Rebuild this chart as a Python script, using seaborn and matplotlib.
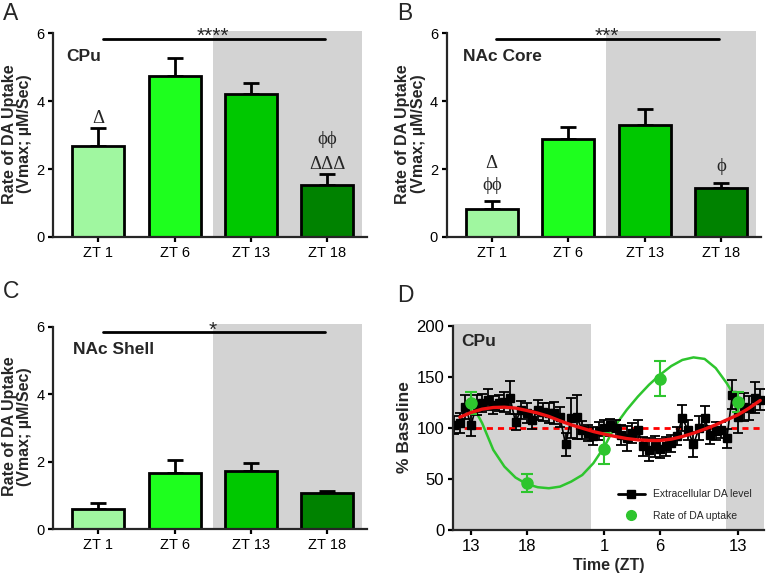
import matplotlib
matplotlib.use("Agg")
import matplotlib.pyplot as plt
import seaborn as sns
import pandas as pd
import numpy as np
from matplotlib.lines import Line2D

sns.set_style("ticks")
plt.rcParams['font.family'] = ['Liberation Sans', 'DejaVu Sans']

# ---------------- data ----------------
categories = ["ZT 1", "ZT 6", "ZT 13", "ZT 18"]
bar_colors = ["#a0f7a0", "#1eff1e", "#00c800", "#008200"]

cpu_vals = [2.69, 4.74, 4.20, 1.53]
cpu_errs = [0.51, 0.54, 0.34, 0.33]
core_vals = [0.82, 2.88, 3.30, 1.43]
core_errs = [0.24, 0.37, 0.46, 0.16]
shell_vals = [0.60, 1.68, 1.73, 1.07]
shell_errs = [0.17, 0.37, 0.24, 0.07]

# panel D (hours since ZT13)
d_tick_pos = [0, 5, 12, 17, 24]
d_tick_lab = ["13", "18", "1", "6", "13"]

da_hr = [-1.5, -1.0, -0.5, 0.0, 0.5, 1.0, 1.5, 2.0, 2.5, 3.0, 3.5, 4.0, 4.5, 5.0,
         5.5, 6.0, 6.5, 7.0, 7.5, 8.0, 8.5, 9.0, 9.5, 10.0, 10.5, 11.0, 11.5, 12.0,
         12.5, 13.0, 13.5, 14.0, 14.5, 15.0, 15.5, 16.0, 16.5, 17.0, 17.5, 18.0,
         18.5, 19.0, 19.5, 20.0, 20.5, 21.0, 21.5, 22.0, 22.5, 23.0, 23.5, 24.0,
         24.5, 25.0, 25.5, 26.0]
da_val = [103, 105, 121, 103, 123, 125, 128, 123, 125, 126, 130, 106, 118, 115,
          108, 118, 116, 115, 115, 111, 84, 110, 111, 98, 95, 92, 97, 100,
          103, 100, 93, 90, 95, 98, 82, 79, 82, 80, 82, 85,
          92, 110, 98, 84, 100, 110, 93, 97, 98, 90, 133, 111,
          121, 120, 130, 128]
da_err = [9, 10, 12, 11, 10, 9, 10, 9, 8, 10, 16, 8, 9, 10,
          9, 10, 9, 10, 11, 10, 11, 20, 22, 9, 8, 9, 9, 8,
          6, 8, 10, 12, 10, 10, 9, 11, 10, 9, 9, 8,
          9, 13, 10, 12, 12, 12, 9, 9, 8, 9, 14, 16,
          14, 12, 15, 10]

upt_hr = [0, 5, 12, 17, 24]
upt_val = [125, 46, 80, 148.5, 126]
upt_err = [11, 9, 15, 17, 10]

red_hr = [-1, 0, 1, 2, 3, 4, 5, 6, 7, 8, 9, 10, 11, 12, 13, 14, 15, 16, 17,
          18, 19, 20, 21, 22, 23, 24, 25, 26]
red_val = [110.8, 115.4, 118.7, 120.3, 120.6, 119.7, 117.4, 114.8, 111.5, 107.2,
           103.3, 100.0, 96.7, 94.1, 91.8, 89.8, 88.5, 87.9, 87.9, 89.2, 91.8,
           95.1, 99.0, 103.3, 108.2, 113.1, 119.7, 127.2]

grn_hr = [0, 1, 2, 3, 4, 5, 6, 7, 8, 9, 10, 11, 12, 13, 14, 15, 16, 17, 18,
          19, 20, 21, 22, 23, 24]
grn_val = [125, 105, 78.7, 62.3, 51.5, 45.2, 42, 41, 42.6, 47.5, 54, 65.6, 82,
           103, 118, 131, 142.6, 152.5, 161, 167, 169.5, 168, 159, 144, 126]

# ---------------- figure ----------------
fig = plt.figure(figsize=(7.68, 5.81), dpi=100)

W, H = 768, 581
def pos(l, r, b, t):
    return [l / W, 1 - b / H, (r - l) / W, (b - t) / H]

axA = fig.add_axes(pos(53.3, 367, 237, 30.7))
axB = fig.add_axes(pos(446.7, 760.7, 237, 30.7))
axC = fig.add_axes(pos(53.3, 367, 529.3, 324))
axD = fig.add_axes(pos(453, 764, 530, 324.3))

SPW = 1.6
serif = ['Liberation Serif', 'DejaVu Serif']


def bar_panel(ax, vals, errs, title, title_x, stars):
    ax.axvspan(1.5, 3.46, color="#d3d3d3", zorder=0, lw=0)
    df = pd.DataFrame({"ZT": categories, "v": vals})
    sns.barplot(data=df, x="ZT", y="v", hue="ZT", order=categories,
                palette=bar_colors, saturation=1, width=0.68, edgecolor="black",
                linewidth=2, errorbar=None, legend=False, ax=ax, zorder=2)
    ax.errorbar(range(4), vals, yerr=[np.zeros(4), errs], fmt="none",
                ecolor="black", elinewidth=2, capsize=5.5, capthick=2, zorder=1)
    ax.set_xlim(-0.59, 3.52)
    ax.set_ylim(0, 6.08)
    ax.set_yticks([0, 2, 4, 6])
    ax.set_xlabel("")
    ax.set_ylabel("Rate of DA Uptake\n(Vmax; µM/Sec)", fontsize=11.5,
                  fontweight="bold", labelpad=3, linespacing=1.05)
    sns.despine(ax=ax)
    ax.spines["left"].set_bounds(0, 6)
    for s in ("left", "bottom"):
        ax.spines[s].set_linewidth(SPW)
        ax.spines[s].set_zorder(5)
    ax.tick_params(width=SPW, length=3.8, pad=2.5, labelsize=10.5, colors="black")
    ax.plot([0.06, 2.97], [5.83, 5.83], color="black", lw=2, zorder=4,
            clip_on=False)
    ax.text(1.5, 5.74, stars, ha="center", va="baseline", fontsize=15,
            clip_on=False, zorder=4)
    ax.text(title_x, 5.33, title, fontsize=12.5,
            fontweight="bold", ha="left", va="center")


bar_panel(axA, cpu_vals, cpu_errs, "CPu", -0.42, "****")
bar_panel(axB, core_vals, core_errs, "NAc Core", -0.38, "***")
bar_panel(axC, shell_vals, shell_errs, "NAc Shell", -0.33, "*")

# annotations
fs_sym = 13.5
axA.text(0, 3.5, "Δ", ha="center", va="center", fontsize=fs_sym, family=serif)
axA.text(3, 2.86, "ϕϕ", ha="center", va="center", fontsize=fs_sym, family=serif)
axA.text(3, 2.15, "ΔΔΔ", ha="center", va="center", fontsize=fs_sym, family=serif)
axB.text(0, 2.17, "Δ", ha="center", va="center", fontsize=fs_sym, family=serif)
axB.text(0, 1.53, "ϕϕ", ha="center", va="center", fontsize=fs_sym, family=serif)
axB.text(3, 2.07, "ϕ", ha="center", va="center", fontsize=fs_sym, family=serif)

# ---------------- panel D ----------------
ax = axD
ax.axvspan(-1.62, 10.8, color="#d3d3d3", zorder=0, lw=0)
ax.axvspan(22.95, 26.34, color="#d3d3d3", zorder=0, lw=0)
ax.axhline(100, color="red", ls=(0, (2.2, 1.8)), lw=2, zorder=1)
ax.errorbar(da_hr, da_val, yerr=da_err, fmt="s-", color="black", ms=6,
            lw=1.2, elinewidth=1.3, capsize=3.5, capthick=1.3, zorder=3)
sns.lineplot(x=grn_hr, y=grn_val, color="#2ec52e", lw=1.8, ax=ax, zorder=2)
ax.errorbar(upt_hr, upt_val, yerr=upt_err, fmt="o", color="#2ec52e", ms=8,
            elinewidth=1.5, capsize=4, capthick=1.5, zorder=4)
sns.lineplot(x=red_hr, y=red_val, color="#ee1111", lw=2.4, ax=ax, zorder=5)
ax.set_xlim(-1.62, 26.34)
ax.set_ylim(0, 202)
ax.set_yticks([0, 50, 100, 150, 200])
ax.set_xticks(d_tick_pos)
ax.set_xticklabels(d_tick_lab)
sns.despine(ax=ax)
ax.spines["left"].set_bounds(0, 200)
for s in ("left", "bottom"):
    ax.spines[s].set_linewidth(SPW)
    ax.spines[s].set_zorder(6)
ax.tick_params(width=SPW, length=3.8, pad=2.5, labelsize=12, colors="black")
ax.set_ylabel("% Baseline", fontsize=12.5, fontweight="bold", labelpad=3)
ax.set_xlabel("Time (ZT)", fontsize=11.5, fontweight="bold", labelpad=3)
ax.text(-0.85, 185, "CPu", fontsize=12.5, fontweight="bold", ha="left", va="center")
handles = [Line2D([0], [0], color="black", marker="s", lw=2, ms=6),
           Line2D([0], [0], color="#2ec52e", marker="o", lw=0, ms=7)]
ax.legend(handles, ["Extracellular DA level", "Rate of DA uptake"],
          loc="lower left", bbox_to_anchor=(0.5, 0.0), frameon=False,
          fontsize=7.5, handlelength=2.6, labelspacing=1.1)

# panel letters
fig.text(3 / W, 1 - 13 / H, "A", fontsize=16.5, va="center", ha="left")
fig.text(397 / W, 1 - 13 / H, "B", fontsize=16.5, va="center", ha="left")
fig.text(3 / W, 1 - 291 / H, "C", fontsize=16.5, va="center", ha="left")
fig.text(397 / W, 1 - 295 / H, "D", fontsize=16.5, va="center", ha="left")

fig.savefig("out.png", dpi=100)
